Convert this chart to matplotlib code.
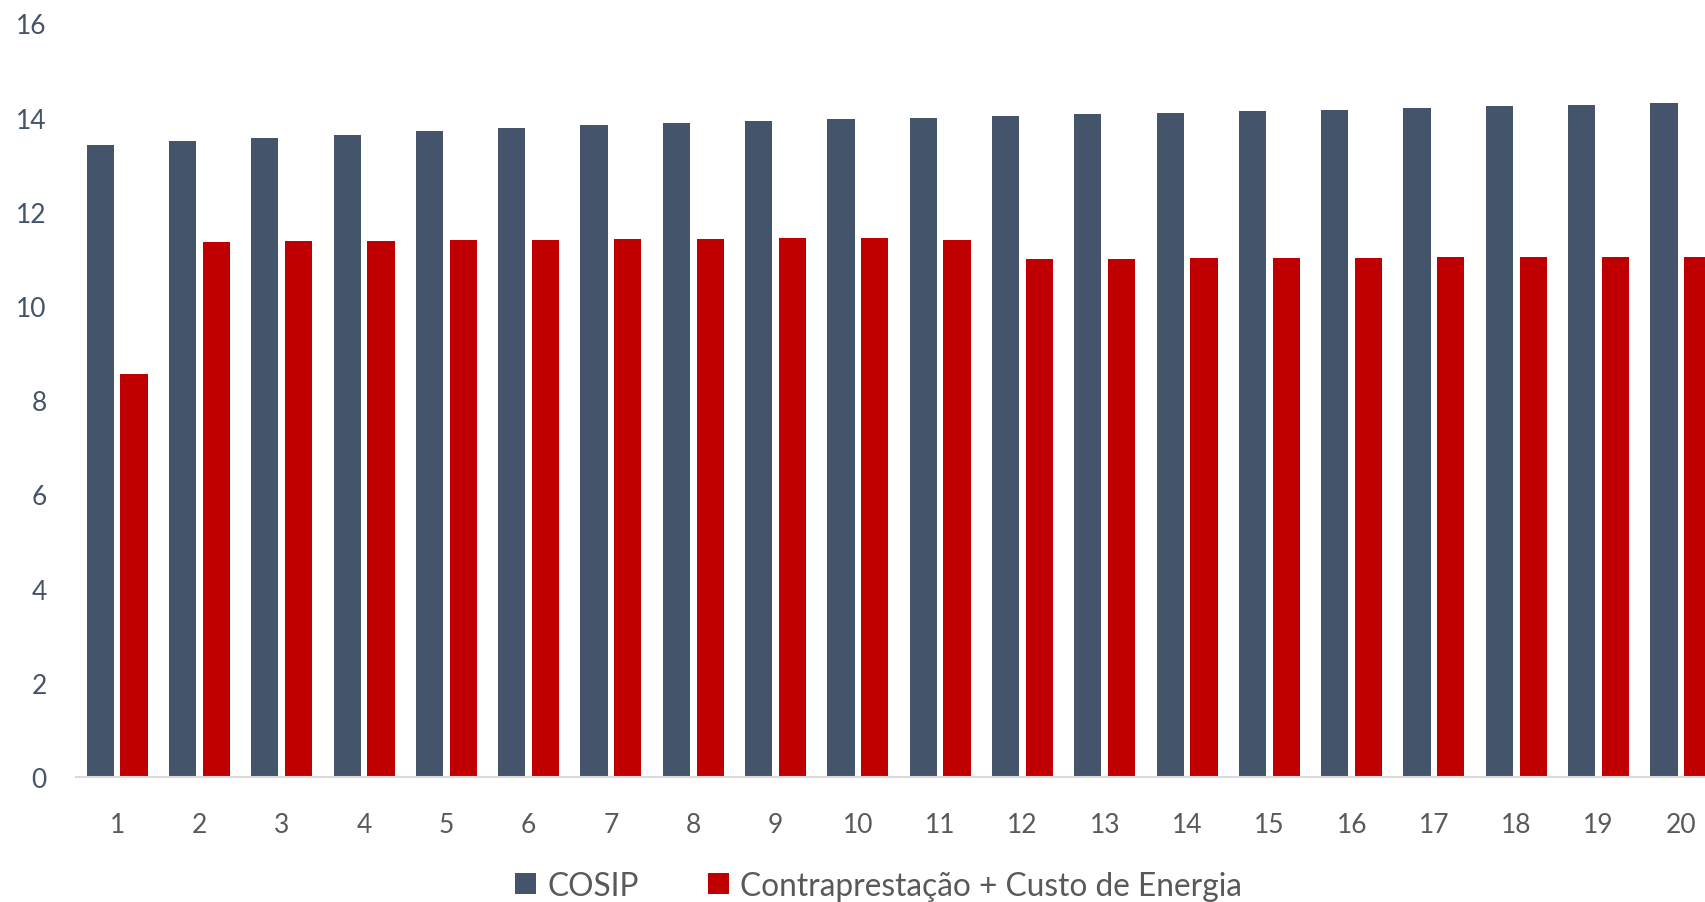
import numpy as np
import matplotlib
matplotlib.use('AGG')
import matplotlib.pyplot as plt

# dados
anos = [str(i) for i in range(1, 21)]
cosip = [13.42, 13.50, 13.57, 13.64, 13.71, 13.78, 13.85, 13.89, 13.92, 13.96,
         13.99, 14.03, 14.07, 14.10, 14.13, 14.17, 14.20, 14.24, 14.27, 14.31]
contra = [8.56, 11.35, 11.37, 11.38, 11.40, 11.41, 11.42, 11.43, 11.44, 11.44,
          11.41, 10.99, 11.00, 11.01, 11.02, 11.02, 11.03, 11.03, 11.04, 11.05]
yticks = [0, 2, 4, 6, 8, 10, 12, 14, 16]

plt.rcParams['font.family'] = ['Lato', 'DejaVu Sans']

fig = plt.figure(figsize=(17.06, 9.03), dpi=100)
# eixo passa da borda direita, como no original
ax = fig.add_axes([76 / 1706, 125 / 903, 1646 / 1706, 753.6 / 903])

x = np.arange(len(anos))
w = 0.33
ax.bar(x - 0.205, cosip, w, color='#44546A', label='COSIP')
ax.bar(x + 0.205, contra, w, color='#C00000', label='Contraprestação + Custo de Energia')

ax.set_xlim(-0.5, len(anos) - 0.5)
ax.set_ylim(0, 16)
ax.set_yticks(yticks)
ax.set_xticks(x)
ax.set_xticklabels(anos)

for s in ['top', 'right', 'left']:
    ax.spines[s].set_visible(False)
ax.spines['bottom'].set_color('#D9D9D9')
ax.spines['bottom'].set_linewidth(1.5)

ax.tick_params(axis='y', length=0, pad=21, labelsize=19, labelcolor='#44546A')
ax.tick_params(axis='x', length=0, pad=25, labelsize=19, labelcolor='#595959')

fig.legend(loc='center', bbox_to_anchor=(0.515, 0.018), ncol=2, frameon=False,
           fontsize=22.8, labelcolor='#595959', handlelength=0.65, handleheight=0.65,
           handletextpad=0.35, columnspacing=2.2)

plt.savefig('out.png', dpi=100)
